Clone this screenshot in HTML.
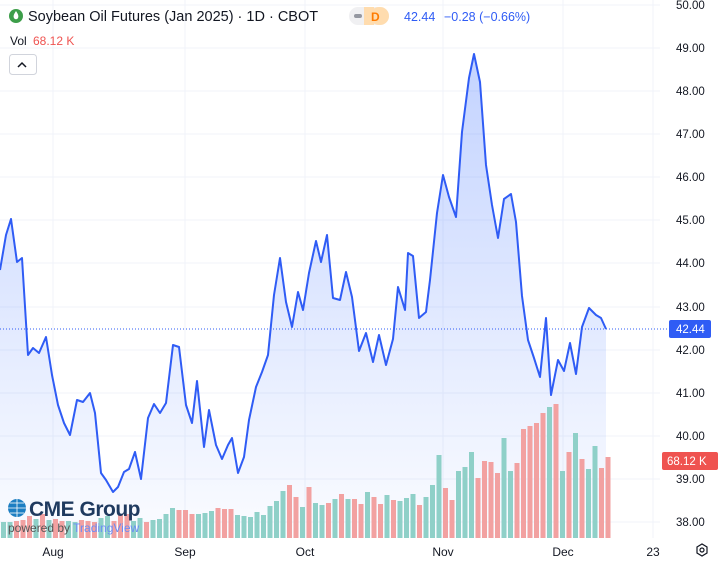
<!DOCTYPE html>
<html><head><meta charset="utf-8"><style>
body{margin:0;background:#fff;width:719px;height:565px;overflow:hidden;font-family:"Liberation Sans",sans-serif}
svg{position:absolute;left:0;top:0}
</style></head><body>
<svg width="719" height="565" viewBox="0 0 719 565" xmlns="http://www.w3.org/2000/svg">
<defs><linearGradient id="g" x1="0" y1="0" x2="0" y2="1"><stop offset="0" stop-color="#2962ff" stop-opacity="0.28"/><stop offset="1" stop-color="#2962ff" stop-opacity="0.02"/></linearGradient></defs>
<g stroke="#f0f3fa" stroke-width="1">
<line x1="0" y1="5" x2="660" y2="5"/><line x1="0" y1="48" x2="660" y2="48"/><line x1="0" y1="91" x2="660" y2="91"/><line x1="0" y1="134" x2="660" y2="134"/><line x1="0" y1="177" x2="660" y2="177"/><line x1="0" y1="220" x2="660" y2="220"/><line x1="0" y1="263" x2="660" y2="263"/><line x1="0" y1="307" x2="660" y2="307"/><line x1="0" y1="350" x2="660" y2="350"/><line x1="0" y1="393" x2="660" y2="393"/><line x1="0" y1="436" x2="660" y2="436"/><line x1="0" y1="479" x2="660" y2="479"/><line x1="0" y1="522" x2="660" y2="522"/>
<line x1="53" y1="0" x2="53" y2="538"/><line x1="185" y1="0" x2="185" y2="538"/><line x1="305" y1="0" x2="305" y2="538"/><line x1="443" y1="0" x2="443" y2="538"/><line x1="563" y1="0" x2="563" y2="538"/><line x1="653" y1="0" x2="653" y2="538"/>
</g>
<path d="M0,270 L6,235 11,219 17,262 22,258 28,355 33,348 39,353 46,337 52,375 58,405 64,423 70,435 77,400 83,402 90,393 95,413 101,473 106,480 113,492 118,487 124,472 129,469 135,452 141,479 148,418 154,404 160,413 166,403 173,345 179,347 186,405 192,423 197,381 204,447 209,410 216,445 222,459 228,445 232,438 238,473 244,457 249,420 256,387 262,372 268,355 274,295 280,258 286,302 292,327 298,292 303,310 309,273 316,241 321,262 327,235 333,298 340,300 346,272 352,297 359,351 366,333 373,362 379,335 386,365 393,339 398,287 405,310 408,253 413,256 419,318 426,312 430,280 437,213 443,175 449,197 456,217 462,132 469,78 474,54 480,82 486,165 492,205 498,238 504,199 511,194 516,222 522,296 528,340 534,358 540,377 546,318 551,395 558,360 564,371 570,343 576,374 582,327 589,308 596,315 601,318 606,329 L606,538 L0,538Z" fill="url(#g)"/>
<g id="bars"></g>
<g>
<rect x="1" y="522" width="5" height="16" fill="#8fd0c8"/><rect x="7.5" y="522" width="5" height="16" fill="#8fd0c8"/><rect x="14" y="521" width="5" height="17" fill="#f2a1a1"/><rect x="20.5" y="520" width="5" height="18" fill="#f2a1a1"/><rect x="27" y="516" width="5" height="22" fill="#f2a1a1"/><rect x="33.5" y="519" width="5" height="19" fill="#8fd0c8"/><rect x="40" y="514" width="5" height="24" fill="#f2a1a1"/><rect x="46.5" y="520" width="5" height="18" fill="#8fd0c8"/><rect x="53" y="519" width="5" height="19" fill="#f2a1a1"/><rect x="59.5" y="521" width="5" height="17" fill="#f2a1a1"/><rect x="66" y="521" width="5" height="17" fill="#8fd0c8"/><rect x="72.5" y="522" width="5" height="16" fill="#8fd0c8"/><rect x="79" y="520" width="5" height="18" fill="#f2a1a1"/><rect x="85.5" y="521" width="5" height="17" fill="#f2a1a1"/><rect x="92" y="522" width="5" height="16" fill="#f2a1a1"/><rect x="98.5" y="518" width="5" height="20" fill="#8fd0c8"/><rect x="105" y="516" width="5" height="22" fill="#8fd0c8"/><rect x="111.5" y="521" width="5" height="17" fill="#f2a1a1"/><rect x="118" y="515" width="5" height="23" fill="#f2a1a1"/><rect x="124.5" y="514" width="5" height="24" fill="#f2a1a1"/><rect x="131" y="521" width="5" height="17" fill="#8fd0c8"/><rect x="137.5" y="518" width="5" height="20" fill="#8fd0c8"/><rect x="144" y="522" width="5" height="16" fill="#f2a1a1"/><rect x="150.5" y="520" width="5" height="18" fill="#8fd0c8"/><rect x="157" y="519" width="5" height="19" fill="#8fd0c8"/><rect x="163.5" y="514" width="5" height="24" fill="#8fd0c8"/><rect x="170" y="508" width="5" height="30" fill="#8fd0c8"/><rect x="176.5" y="510" width="5" height="28" fill="#f2a1a1"/><rect x="183" y="510" width="5" height="28" fill="#f2a1a1"/><rect x="189.5" y="514" width="5" height="24" fill="#f2a1a1"/><rect x="196" y="514" width="5" height="24" fill="#8fd0c8"/><rect x="202.5" y="513" width="5" height="25" fill="#8fd0c8"/><rect x="209" y="511" width="5" height="27" fill="#8fd0c8"/><rect x="215.5" y="508" width="5" height="30" fill="#f2a1a1"/><rect x="222" y="509" width="5" height="29" fill="#f2a1a1"/><rect x="228.5" y="509" width="5" height="29" fill="#f2a1a1"/><rect x="235" y="515" width="5" height="23" fill="#8fd0c8"/><rect x="241.5" y="516" width="5" height="22" fill="#8fd0c8"/><rect x="248" y="517" width="5" height="21" fill="#8fd0c8"/><rect x="254.5" y="512" width="5" height="26" fill="#8fd0c8"/><rect x="261" y="515" width="5" height="23" fill="#8fd0c8"/><rect x="267.5" y="506" width="5" height="32" fill="#8fd0c8"/><rect x="274" y="501" width="5" height="37" fill="#8fd0c8"/><rect x="280.5" y="491" width="5" height="47" fill="#8fd0c8"/><rect x="287" y="485" width="5" height="53" fill="#f2a1a1"/><rect x="293.5" y="497" width="5" height="41" fill="#f2a1a1"/><rect x="300" y="507" width="5" height="31" fill="#8fd0c8"/><rect x="306.5" y="487" width="5" height="51" fill="#f2a1a1"/><rect x="313" y="503" width="5" height="35" fill="#8fd0c8"/><rect x="319.5" y="505" width="5" height="33" fill="#8fd0c8"/><rect x="326" y="503" width="5" height="35" fill="#f2a1a1"/><rect x="332.5" y="499" width="5" height="39" fill="#8fd0c8"/><rect x="339" y="494" width="5" height="44" fill="#f2a1a1"/><rect x="345.5" y="499" width="5" height="39" fill="#8fd0c8"/><rect x="352" y="499" width="5" height="39" fill="#f2a1a1"/><rect x="358.5" y="504" width="5" height="34" fill="#f2a1a1"/><rect x="365" y="492" width="5" height="46" fill="#8fd0c8"/><rect x="371.5" y="497" width="5" height="41" fill="#f2a1a1"/><rect x="378" y="504" width="5" height="34" fill="#f2a1a1"/><rect x="384.5" y="495" width="5" height="43" fill="#8fd0c8"/><rect x="391" y="500" width="5" height="38" fill="#f2a1a1"/><rect x="397.5" y="501" width="5" height="37" fill="#8fd0c8"/><rect x="404" y="498" width="5" height="40" fill="#8fd0c8"/><rect x="410.5" y="494" width="5" height="44" fill="#8fd0c8"/><rect x="417" y="505" width="5" height="33" fill="#f2a1a1"/><rect x="423.5" y="497" width="5" height="41" fill="#8fd0c8"/><rect x="430" y="485" width="5" height="53" fill="#8fd0c8"/><rect x="436.5" y="455" width="5" height="83" fill="#8fd0c8"/><rect x="443" y="488" width="5" height="50" fill="#f2a1a1"/><rect x="449.5" y="500" width="5" height="38" fill="#f2a1a1"/><rect x="456" y="471" width="5" height="67" fill="#8fd0c8"/><rect x="462.5" y="467" width="5" height="71" fill="#8fd0c8"/><rect x="469" y="452" width="5" height="86" fill="#8fd0c8"/><rect x="475.5" y="478" width="5" height="60" fill="#f2a1a1"/><rect x="482" y="461" width="5" height="77" fill="#f2a1a1"/><rect x="488.5" y="462" width="5" height="76" fill="#f2a1a1"/><rect x="495" y="473" width="5" height="65" fill="#f2a1a1"/><rect x="501.5" y="438" width="5" height="100" fill="#8fd0c8"/><rect x="508" y="471" width="5" height="67" fill="#8fd0c8"/><rect x="514.5" y="463" width="5" height="75" fill="#f2a1a1"/><rect x="521" y="429" width="5" height="109" fill="#f2a1a1"/><rect x="527.5" y="426" width="5" height="112" fill="#f2a1a1"/><rect x="534" y="423" width="5" height="115" fill="#f2a1a1"/><rect x="540.5" y="413" width="5" height="125" fill="#f2a1a1"/><rect x="547" y="407" width="5" height="131" fill="#8fd0c8"/><rect x="553.5" y="404" width="5" height="134" fill="#f2a1a1"/><rect x="560" y="471" width="5" height="67" fill="#8fd0c8"/><rect x="566.5" y="452" width="5" height="86" fill="#f2a1a1"/><rect x="573" y="433" width="5" height="105" fill="#8fd0c8"/><rect x="579.5" y="459" width="5" height="79" fill="#f2a1a1"/><rect x="586" y="469" width="5" height="69" fill="#8fd0c8"/><rect x="592.5" y="446" width="5" height="92" fill="#8fd0c8"/><rect x="599" y="468" width="5" height="70" fill="#f2a1a1"/><rect x="605.5" y="457" width="5" height="81" fill="#f2a1a1"/>
</g>
<polyline fill="none" stroke="#2f5cf5" stroke-width="2" stroke-linejoin="round" points="0,270 6,235 11,219 17,262 22,258 28,355 33,348 39,353 46,337 52,375 58,405 64,423 70,435 77,400 83,402 90,393 95,413 101,473 106,480 113,492 118,487 124,472 129,469 135,452 141,479 148,418 154,404 160,413 166,403 173,345 179,347 186,405 192,423 197,381 204,447 209,410 216,445 222,459 228,445 232,438 238,473 244,457 249,420 256,387 262,372 268,355 274,295 280,258 286,302 292,327 298,292 303,310 309,273 316,241 321,262 327,235 333,298 340,300 346,272 352,297 359,351 366,333 373,362 379,335 386,365 393,339 398,287 405,310 408,253 413,256 419,318 426,312 430,280 437,213 443,175 449,197 456,217 462,132 469,78 474,54 480,82 486,165 492,205 498,238 504,199 511,194 516,222 522,296 528,340 534,358 540,377 546,318 551,395 558,360 564,371 570,343 576,374 582,327 589,308 596,315 601,318 606,329"/>
<line x1="0" y1="329" x2="668" y2="329" stroke="#2f5cf5" stroke-width="1" stroke-dasharray="1,2"/>
<g font-size="11.5" fill="#131722" text-anchor="start">
<text x="676" y="9">50.00</text><text x="676" y="52">49.00</text><text x="676" y="95">48.00</text><text x="676" y="138">47.00</text><text x="676" y="181">46.00</text><text x="676" y="224">45.00</text><text x="676" y="267">44.00</text><text x="676" y="311">43.00</text><text x="676" y="354">42.00</text><text x="676" y="397">41.00</text><text x="676" y="440">40.00</text><text x="676" y="483">39.00</text><text x="676" y="526">38.00</text>
</g>
<rect x="669" y="320" width="42" height="18" rx="2" fill="#2f5cf5"/><text x="676" y="333" font-size="11.5" fill="#fff">42.44</text>
<rect x="662" y="452" width="56" height="18" rx="2" fill="#ef5350"/><text x="667" y="465" font-size="11.5" fill="#fff">68.12 K</text>
<g font-size="12" fill="#131722" text-anchor="middle">
<text x="53" y="556">Aug</text><text x="185" y="556">Sep</text><text x="305" y="556">Oct</text><text x="443" y="556">Nov</text><text x="563" y="556">Dec</text><text x="653" y="556">23</text>
</g>
<polygon points="697,547 702,544 707,547 707,553 702,556 697,553" fill="none" stroke="#131722" stroke-width="1.2"/><circle cx="702" cy="550" r="2" fill="none" stroke="#131722" stroke-width="1.2"/>
<circle cx="16" cy="16" r="7" fill="#3d9e4a"/><path d="M16,11 C14,14 13,16 14,18 A2.2,2.2 0 0 0 18,18 C19,16 18,14 16,11Z" fill="#fff"/>
<text x="28" y="21" font-size="14.5" fill="#131722">Soybean Oil Futures (Jan 2025) · 1D · CBOT</text>
<rect x="349" y="7" width="40" height="18" rx="9" fill="#f0f0f2"/><rect x="370" y="7" width="19" height="18" rx="9" fill="#ffdcae"/><rect x="364" y="7" width="10" height="18" fill="#ffdcae"/><rect x="354" y="14" width="8" height="4" rx="2" fill="#9598a1"/>
<text x="371" y="21" font-size="12" fill="#ff7b00" font-weight="bold">D</text>
<text x="404" y="21" font-size="12.5" fill="#2f5cf5">42.44</text><text x="444" y="21" font-size="12.5" fill="#2f5cf5">−0.28 (−0.66%)</text>
<text x="10" y="45" font-size="12" fill="#131722">Vol</text><text x="33" y="45" font-size="12" fill="#ef5350">68.12 K</text>
<rect x="9.5" y="54.5" width="27" height="20" rx="3" fill="#fff" stroke="#d1d4dc"/><path d="M18,67 L22,63 L26,67" fill="none" stroke="#131722" stroke-width="1.5"/>
<circle cx="17" cy="508" r="9" fill="#1c7ec2"/><g stroke="#fff" stroke-width="0.8"><line x1="8" y1="508" x2="26" y2="508"/><line x1="17" y1="499" x2="17" y2="517"/><line x1="10" y1="503" x2="24" y2="503"/><line x1="10" y1="513" x2="24" y2="513"/></g>
<text x="29" y="516" font-size="21" fill="#1f3a5f" font-weight="bold" letter-spacing="-0.5">CME Group</text>
<text x="8" y="532" font-size="12" fill="#555">powered by <tspan fill="#6c8cf5">TradingView</tspan></text>
</svg>
</body></html>
